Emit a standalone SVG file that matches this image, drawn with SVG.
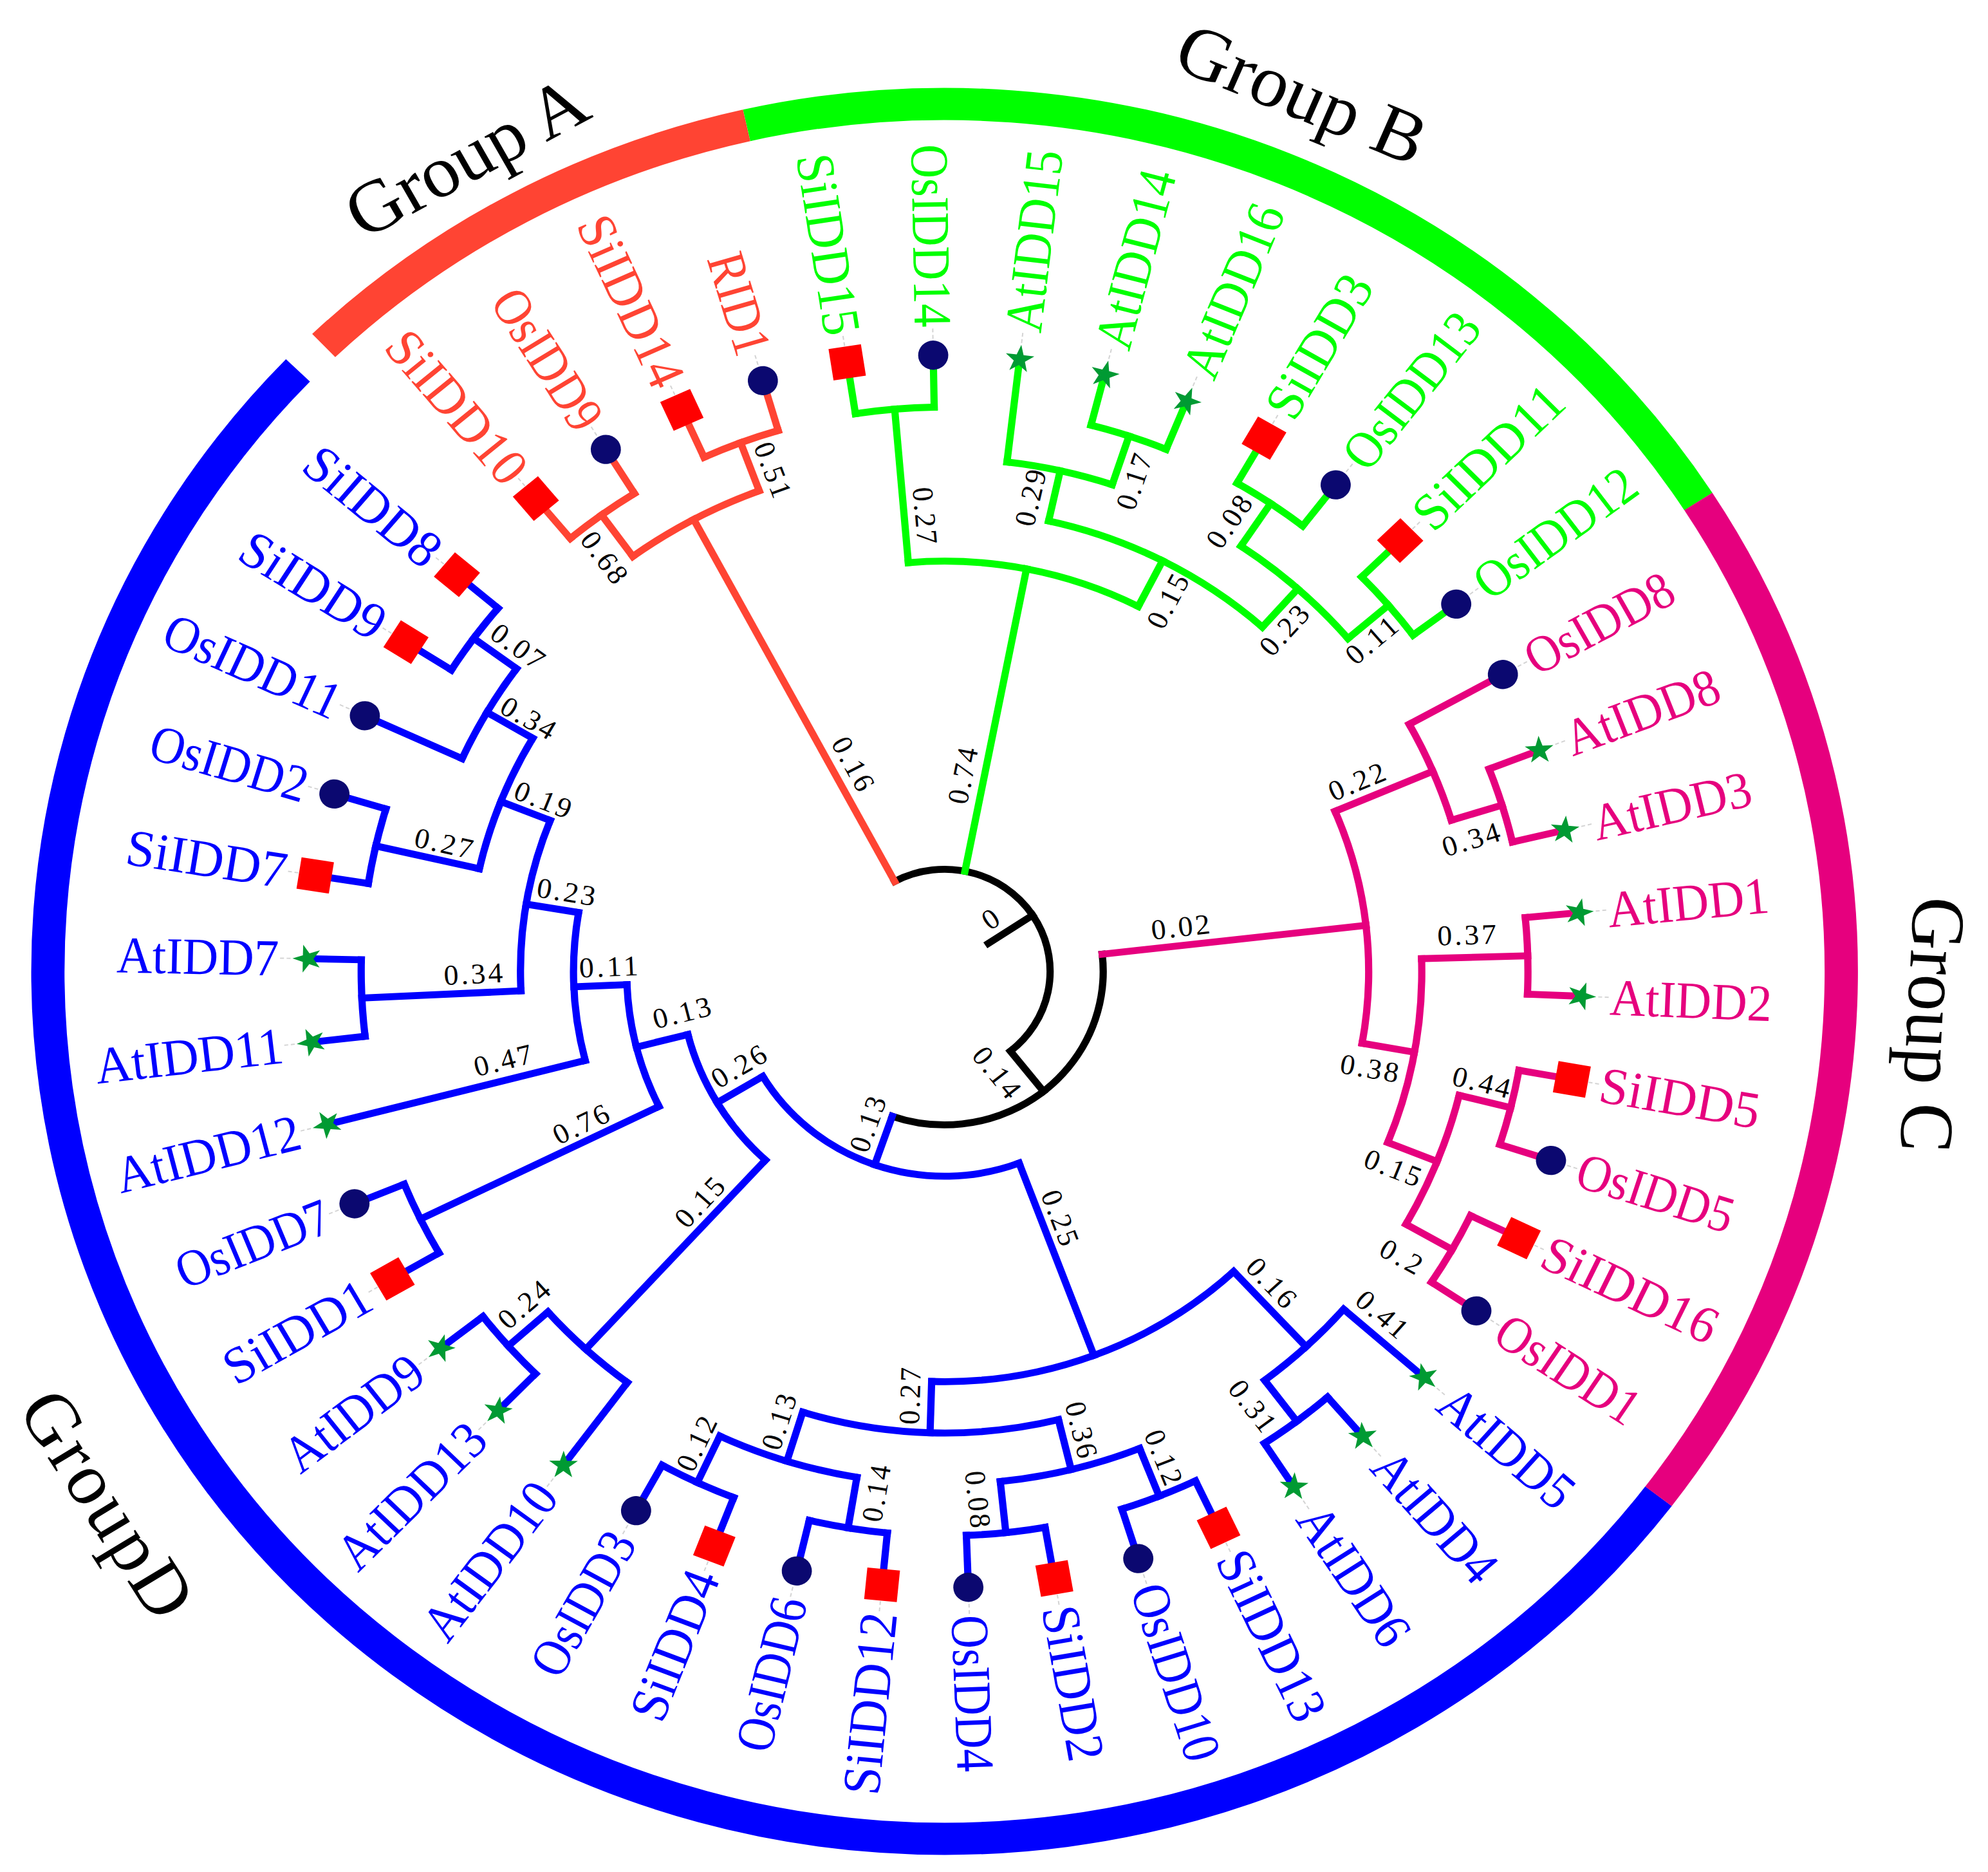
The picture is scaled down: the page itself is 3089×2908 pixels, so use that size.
<svg xmlns="http://www.w3.org/2000/svg" width="3089" height="2908" viewBox="0 0 3089 2908">
<defs>
<style>
.arc{fill:none;stroke-width:5.5;stroke-linecap:square}
.br{fill:none;stroke-width:5.5;stroke-linecap:square}
.k{stroke:#000}.a{stroke:#FF4433}.b{stroke:#00FF00}.c{stroke:#E6007E}.d{stroke:#0000FF}
.ring{fill:none;stroke-width:25.4}
.lbl{font-family:"Liberation Serif",serif;font-size:41px;dominant-baseline:central}
.ta{fill:#FF4433}.tb{fill:#00FF00}.tc{fill:#E6007E}.td{fill:#0000FF}
.bl{font-family:"Liberation Serif",serif;font-size:22.5px;fill:#000;text-anchor:middle;dominant-baseline:central}
.grp{font-family:"Liberation Serif",serif;font-size:58px;fill:#000;text-anchor:middle;dominant-baseline:central}
.ld{stroke:#d4d4d4;stroke-width:1;stroke-dasharray:3 2}
</style>
<circle id="mc" r="11.5" fill="#0B0870"/>
<rect id="ms" x="-12.5" y="-12.5" width="25" height="25" fill="#FF0000"/>
<polygon id="mt" points="11.5,0 3.64,2.65 3.55,10.94 -1.39,4.28 -9.3,6.76 -4.5,0 -9.3,-6.76 -1.39,-4.28 3.55,-10.94 3.64,-2.65" fill="#009A33"/>
</defs>
<rect width="3089" height="2908" fill="#fff"/>
<g transform="translate(1467.7 1509) scale(2.037 1.97)">
<g id="ring">
<circle class="ring" stroke="#0000FF" r="684" pathLength="360" stroke-dasharray="186.63 400" transform="rotate(37.23)"/>
<circle class="ring" stroke="#FF4433" r="684" pathLength="360" stroke-dasharray="31.07 400" transform="rotate(-133.82)"/>
<circle class="ring" stroke="#00FF00" r="684" pathLength="360" stroke-dasharray="69.95 400" transform="rotate(-102.75)"/>
<circle class="ring" stroke="#E6007E" r="684" pathLength="360" stroke-dasharray="70.03 400" transform="rotate(-32.8)"/>
</g>
<g id="group-labels">
<text class="grp" transform="translate(-365 -642.6) rotate(-29)">Group A</text>
<text class="grp" transform="translate(272.7 -692.2) rotate(23)">Group B</text>
<text class="grp" transform="translate(754 42) rotate(93)">Group C</text>
<text class="grp" transform="translate(-638.3 419.8) rotate(58)" textLength="200" lengthAdjust="spacing">GroupD</text>
</g>
<g id="connectors">
<!-- root -->
<line class="br k" x1="40" x2="80.5" transform="rotate(-33.41)"/>
<circle class="arc k" r="80.5" pathLength="360" stroke-dasharray="169.651 400" transform="rotate(-118.235)"/>
<line class="br k" x1="80.5" x2="121" transform="rotate(51.416)"/>
<circle class="arc k" r="121" pathLength="360" stroke-dasharray="115.714 400" transform="rotate(-6.441)"/>
<!-- group A -->
<circle class="arc a" r="445" pathLength="360" stroke-dasharray="7.78 400" transform="rotate(-129.9)"/>
<circle class="arc a" r="445" pathLength="360" stroke-dasharray="7.78 400" transform="rotate(-114.35)"/>
<circle class="arc a" r="404.5" pathLength="360" stroke-dasharray="15.55 400" transform="rotate(-126.01)"/>
<line class="br a" x1="445" x2="485.5" transform="rotate(-129.9)"/>
<line class="br a" x1="445" x2="485.5" transform="rotate(-122.12)"/>
<line class="br a" x1="445" x2="485.5" transform="rotate(-114.35)"/>
<line class="br a" x1="445" x2="485.5" transform="rotate(-106.57)"/>
<line class="br a" x1="404.5" x2="445" transform="rotate(-126.01)"/>
<line class="br a" x1="404.5" x2="445" transform="rotate(-110.46)"/>
<line class="br a" x1="80.5" x2="404.5" transform="rotate(-118.235)"/>
<!-- group B -->
<circle class="arc b" r="445" pathLength="360" stroke-dasharray="7.77 400" transform="rotate(-98.79)"/>
<circle class="arc b" r="445" pathLength="360" stroke-dasharray="7.78 400" transform="rotate(-75.46)"/>
<circle class="arc b" r="404.5" pathLength="360" stroke-dasharray="11.67 400" transform="rotate(-83.24)"/>
<circle class="arc b" r="445" pathLength="360" stroke-dasharray="7.78 400" transform="rotate(-59.91)"/>
<circle class="arc b" r="445" pathLength="360" stroke-dasharray="7.77 400" transform="rotate(-44.35)"/>
<circle class="arc b" r="404.5" pathLength="360" stroke-dasharray="15.555 400" transform="rotate(-56.02)"/>
<circle class="arc b" r="364" pathLength="360" stroke-dasharray="29.163 400" transform="rotate(-77.405)"/>
<circle class="arc b" r="323.5" pathLength="360" stroke-dasharray="32.085 400" transform="rotate(-94.905)"/>
<line class="br b" x1="445" x2="485.5" transform="rotate(-98.79)"/>
<line class="br b" x1="445" x2="485.5" transform="rotate(-91.02)"/>
<line class="br b" x1="404.5" x2="485.5" transform="rotate(-83.24)"/>
<line class="br b" x1="445" x2="485.5" transform="rotate(-75.46)"/>
<line class="br b" x1="445" x2="485.5" transform="rotate(-67.68)"/>
<line class="br b" x1="445" x2="485.5" transform="rotate(-59.91)"/>
<line class="br b" x1="445" x2="485.5" transform="rotate(-52.13)"/>
<line class="br b" x1="445" x2="485.5" transform="rotate(-44.35)"/>
<line class="br b" x1="445" x2="485.5" transform="rotate(-36.58)"/>
<line class="br b" x1="323.5" x2="445" transform="rotate(-94.905)"/>
<line class="br b" x1="404.5" x2="445" transform="rotate(-71.57)"/>
<line class="br b" x1="364" x2="404.5" transform="rotate(-77.405)"/>
<line class="br b" x1="404.5" x2="445" transform="rotate(-56.02)"/>
<line class="br b" x1="404.5" x2="445" transform="rotate(-40.465)"/>
<line class="br b" x1="364" x2="404.5" transform="rotate(-48.2425)"/>
<line class="br b" x1="323.5" x2="364" transform="rotate(-62.82)"/>
<line class="br b" x1="80.5" x2="323.5" transform="rotate(-78.86)"/>
<!-- group C -->
<circle class="arc c" r="445" pathLength="360" stroke-dasharray="7.77 400" transform="rotate(-21.02)"/>
<circle class="arc c" r="404.5" pathLength="360" stroke-dasharray="11.665 400" transform="rotate(-28.8)"/>
<circle class="arc c" r="445" pathLength="360" stroke-dasharray="7.78 400" transform="rotate(-5.47)"/>
<circle class="arc c" r="445" pathLength="360" stroke-dasharray="7.77 400" transform="rotate(10.09)"/>
<circle class="arc c" r="445" pathLength="360" stroke-dasharray="7.78 400" transform="rotate(25.64)"/>
<circle class="arc c" r="404.5" pathLength="360" stroke-dasharray="15.555 400" transform="rotate(13.975)"/>
<circle class="arc c" r="364" pathLength="360" stroke-dasharray="23.333 400" transform="rotate(-1.58)"/>
<circle class="arc c" r="323.5" pathLength="360" stroke-dasharray="33.054 400" transform="rotate(-22.9675)"/>
<line class="br c" x1="404.5" x2="485.5" transform="rotate(-28.8)"/>
<line class="br c" x1="445" x2="485.5" transform="rotate(-21.02)"/>
<line class="br c" x1="445" x2="485.5" transform="rotate(-13.25)"/>
<line class="br c" x1="445" x2="485.5" transform="rotate(-5.47)"/>
<line class="br c" x1="445" x2="485.5" transform="rotate(2.31)"/>
<line class="br c" x1="445" x2="485.5" transform="rotate(10.09)"/>
<line class="br c" x1="445" x2="485.5" transform="rotate(17.86)"/>
<line class="br c" x1="445" x2="485.5" transform="rotate(25.64)"/>
<line class="br c" x1="445" x2="485.5" transform="rotate(33.42)"/>
<line class="br c" x1="404.5" x2="445" transform="rotate(-17.135)"/>
<line class="br c" x1="323.5" x2="404.5" transform="rotate(-22.9675)"/>
<line class="br c" x1="364" x2="445" transform="rotate(-1.58)"/>
<line class="br c" x1="404.5" x2="445" transform="rotate(13.975)"/>
<line class="br c" x1="404.5" x2="445" transform="rotate(29.53)"/>
<line class="br c" x1="364" x2="404.5" transform="rotate(21.7525)"/>
<line class="br c" x1="323.5" x2="364" transform="rotate(10.086)"/>
<line class="br c" x1="121" x2="323.5" transform="rotate(-6.441)"/>
<!-- group D -->
<circle class="arc d" r="445" pathLength="360" stroke-dasharray="7.78 400" transform="rotate(48.97)"/>
<circle class="arc d" r="404.5" pathLength="360" stroke-dasharray="11.67 400" transform="rotate(41.19)"/>
<circle class="arc d" r="445" pathLength="360" stroke-dasharray="7.77 400" transform="rotate(64.53)"/>
<circle class="arc d" r="445" pathLength="360" stroke-dasharray="7.78 400" transform="rotate(80.08)"/>
<circle class="arc d" r="404.5" pathLength="360" stroke-dasharray="15.555 400" transform="rotate(68.415)"/>
<circle class="arc d" r="445" pathLength="360" stroke-dasharray="7.78 400" transform="rotate(95.63)"/>
<circle class="arc d" r="445" pathLength="360" stroke-dasharray="7.77 400" transform="rotate(111.19)"/>
<circle class="arc d" r="404.5" pathLength="360" stroke-dasharray="15.555 400" transform="rotate(99.52)"/>
<circle class="arc d" r="364" pathLength="360" stroke-dasharray="31.105 400" transform="rotate(76.1925)"/>
<circle class="arc d" r="323.5" pathLength="360" stroke-dasharray="44.72 400" transform="rotate(47.025)"/>
<circle class="arc d" r="445" pathLength="360" stroke-dasharray="7.78 400" transform="rotate(134.52)"/>
<circle class="arc d" r="404.5" pathLength="360" stroke-dasharray="11.67 400" transform="rotate(126.74)"/>
<circle class="arc d" r="445" pathLength="360" stroke-dasharray="7.78 400" transform="rotate(150.07)"/>
<circle class="arc d" r="445" pathLength="360" stroke-dasharray="7.78 400" transform="rotate(173.4)"/>
<circle class="arc d" r="445" pathLength="360" stroke-dasharray="7.77 400" transform="rotate(188.96)"/>
<circle class="arc d" r="445" pathLength="360" stroke-dasharray="7.77 400" transform="rotate(212.29)"/>
<circle class="arc d" r="404.5" pathLength="360" stroke-dasharray="11.665 400" transform="rotate(204.51)"/>
<circle class="arc d" r="364" pathLength="360" stroke-dasharray="17.498 400" transform="rotate(192.845)"/>
<circle class="arc d" r="323.5" pathLength="360" stroke-dasharray="24.3 400" transform="rotate(177.29)"/>
<circle class="arc d" r="283" pathLength="360" stroke-dasharray="23.81 400" transform="rotate(165.63)"/>
<circle class="arc d" r="242.5" pathLength="360" stroke-dasharray="23.575 400" transform="rotate(153.96)"/>
<circle class="arc d" r="202" pathLength="360" stroke-dasharray="33.173 400" transform="rotate(132.575)"/>
<circle class="arc d" r="161.5" pathLength="360" stroke-dasharray="79.776 400" transform="rotate(69.385)"/>
<line class="br d" x1="404.5" x2="485.5" transform="rotate(41.19)"/>
<line class="br d" x1="445" x2="485.5" transform="rotate(48.97)"/>
<line class="br d" x1="445" x2="485.5" transform="rotate(56.75)"/>
<line class="br d" x1="445" x2="485.5" transform="rotate(64.53)"/>
<line class="br d" x1="445" x2="485.5" transform="rotate(72.3)"/>
<line class="br d" x1="445" x2="485.5" transform="rotate(80.08)"/>
<line class="br d" x1="445" x2="485.5" transform="rotate(87.86)"/>
<line class="br d" x1="445" x2="485.5" transform="rotate(95.63)"/>
<line class="br d" x1="445" x2="485.5" transform="rotate(103.41)"/>
<line class="br d" x1="445" x2="485.5" transform="rotate(111.19)"/>
<line class="br d" x1="445" x2="485.5" transform="rotate(118.96)"/>
<line class="br d" x1="404.5" x2="485.5" transform="rotate(126.74)"/>
<line class="br d" x1="445" x2="485.5" transform="rotate(134.52)"/>
<line class="br d" x1="445" x2="485.5" transform="rotate(142.3)"/>
<line class="br d" x1="445" x2="485.5" transform="rotate(150.07)"/>
<line class="br d" x1="445" x2="485.5" transform="rotate(157.85)"/>
<line class="br d" x1="283" x2="485.5" transform="rotate(165.63)"/>
<line class="br d" x1="445" x2="485.5" transform="rotate(173.4)"/>
<line class="br d" x1="445" x2="485.5" transform="rotate(181.18)"/>
<line class="br d" x1="445" x2="485.5" transform="rotate(188.96)"/>
<line class="br d" x1="445" x2="485.5" transform="rotate(196.73)"/>
<line class="br d" x1="404.5" x2="485.5" transform="rotate(204.51)"/>
<line class="br d" x1="445" x2="485.5" transform="rotate(212.29)"/>
<line class="br d" x1="445" x2="485.5" transform="rotate(220.06)"/>
<line class="br d" x1="404.5" x2="445" transform="rotate(52.86)"/>
<line class="br d" x1="323.5" x2="404.5" transform="rotate(47.025)"/>
<line class="br d" x1="404.5" x2="445" transform="rotate(68.415)"/>
<line class="br d" x1="404.5" x2="445" transform="rotate(83.97)"/>
<line class="br d" x1="364" x2="404.5" transform="rotate(76.1925)"/>
<line class="br d" x1="404.5" x2="445" transform="rotate(99.52)"/>
<line class="br d" x1="404.5" x2="445" transform="rotate(115.075)"/>
<line class="br d" x1="364" x2="404.5" transform="rotate(107.2975)"/>
<line class="br d" x1="323.5" x2="364" transform="rotate(91.745)"/>
<line class="br d" x1="161.5" x2="323.5" transform="rotate(69.385)"/>
<line class="br d" x1="404.5" x2="445" transform="rotate(138.41)"/>
<line class="br d" x1="202" x2="404.5" transform="rotate(132.575)"/>
<line class="br d" x1="242.5" x2="445" transform="rotate(153.96)"/>
<line class="br d" x1="323.5" x2="445" transform="rotate(177.29)"/>
<line class="br d" x1="364" x2="445" transform="rotate(192.845)"/>
<line class="br d" x1="404.5" x2="445" transform="rotate(216.175)"/>
<line class="br d" x1="364" x2="404.5" transform="rotate(210.3425)"/>
<line class="br d" x1="323.5" x2="364" transform="rotate(201.59)"/>
<line class="br d" x1="283" x2="323.5" transform="rotate(189.44)"/>
<line class="br d" x1="242.5" x2="283" transform="rotate(177.535)"/>
<line class="br d" x1="202" x2="242.5" transform="rotate(165.7475)"/>
<line class="br d" x1="161.5" x2="202" transform="rotate(149.161)"/>
<line class="br d" x1="121" x2="161.5" transform="rotate(109.273)"/>
</g>
<g id="branch-labels">
<text class="bl" transform="translate(-259.5 -326.4) rotate(53.99)" textLength="45" lengthAdjust="spacing">0.68</text>
<text class="bl" transform="translate(-131 -395.5) rotate(69.54)" textLength="45" lengthAdjust="spacing">0.51</text>
<text class="bl" transform="translate(-69.8 -163.7) rotate(61.77)" textLength="45" lengthAdjust="spacing">0.16</text>
<text class="bl" transform="translate(14 -154.3) rotate(-78.86)" textLength="45" lengthAdjust="spacing">0.74</text>
<text class="bl" transform="translate(-15 -359.4) rotate(85.1)" textLength="45" lengthAdjust="spacing">0.27</text>
<text class="bl" transform="translate(65.6 -373.5) rotate(-77.41)" textLength="45" lengthAdjust="spacing">0.29</text>
<text class="bl" transform="translate(144.6 -386.1) rotate(-71.57)" textLength="45" lengthAdjust="spacing">0.17</text>
<text class="bl" transform="translate(170.3 -291.9) rotate(-62.82)" textLength="45" lengthAdjust="spacing">0.15</text>
<text class="bl" transform="translate(217.1 -354.7) rotate(-56.02)" textLength="45" lengthAdjust="spacing">0.08</text>
<text class="bl" transform="translate(259.2 -269) rotate(-48.24)" textLength="45" lengthAdjust="spacing">0.23</text>
<text class="bl" transform="translate(325.8 -261) rotate(-40.47)" textLength="45" lengthAdjust="spacing">0.11</text>
<text class="bl" transform="translate(180 -35) rotate(-6.44)" textLength="45" lengthAdjust="spacing">0.02</text>
<text class="bl" transform="translate(314.5 -149.6) rotate(-22.97)" textLength="45" lengthAdjust="spacing">0.22</text>
<text class="bl" transform="translate(401.5 -104) rotate(-17.14)" textLength="45" lengthAdjust="spacing">0.34</text>
<text class="bl" transform="translate(398.4 -28.7) rotate(-1.58)" textLength="45" lengthAdjust="spacing">0.37</text>
<text class="bl" transform="translate(324.2 76.5) rotate(10.09)" textLength="45" lengthAdjust="spacing">0.38</text>
<text class="bl" transform="translate(409.6 87.5) rotate(13.98)" textLength="45" lengthAdjust="spacing">0.44</text>
<text class="bl" transform="translate(341.9 155) rotate(21.75)" textLength="45" lengthAdjust="spacing">0.15</text>
<text class="bl" transform="translate(348.4 225) rotate(29.53)" textLength="33.75" lengthAdjust="spacing">0.2</text>
<text class="bl" transform="translate(-58.5 120.5) rotate(-70.73)" textLength="45" lengthAdjust="spacing">0.13</text>
<text class="bl" transform="translate(39.8 79.7) rotate(51.42)" textLength="45" lengthAdjust="spacing">0.14</text>
<text class="bl" transform="translate(35.1 -41.2) rotate(-33.41)">0</text>
<text class="bl" transform="translate(88.1 194.3) rotate(69.39)" textLength="45" lengthAdjust="spacing">0.25</text>
<text class="bl" transform="translate(249.3 245.5) rotate(47.03)" textLength="45" lengthAdjust="spacing">0.16</text>
<text class="bl" transform="translate(333.8 270.5) rotate(41.19)" textLength="45" lengthAdjust="spacing">0.41</text>
<text class="bl" transform="translate(234.8 342.6) rotate(52.86)" textLength="45" lengthAdjust="spacing">0.31</text>
<text class="bl" transform="translate(-26.3 334.8) rotate(-88.26)" textLength="45" lengthAdjust="spacing">0.27</text>
<text class="bl" transform="translate(104.3 361.4) rotate(76.19)" textLength="45" lengthAdjust="spacing">0.36</text>
<text class="bl" transform="translate(-126.2 355.1) rotate(-72.7)" textLength="45" lengthAdjust="spacing">0.13</text>
<text class="bl" transform="translate(-189.1 372.4) rotate(-64.93)" textLength="45" lengthAdjust="spacing">0.12</text>
<text class="bl" transform="translate(-52 411.6) rotate(-80.48)" textLength="45" lengthAdjust="spacing">0.14</text>
<text class="bl" transform="translate(25.3 416.3) rotate(83.97)" textLength="45" lengthAdjust="spacing">0.08</text>
<text class="bl" transform="translate(167.1 383.3) rotate(68.42)" textLength="45" lengthAdjust="spacing">0.12</text>
<text class="bl" transform="translate(-186.7 182) rotate(-47.43)" textLength="45" lengthAdjust="spacing">0.15</text>
<text class="bl" transform="translate(-320.8 262.7) rotate(-41.59)" textLength="45" lengthAdjust="spacing">0.24</text>
<text class="bl" transform="translate(-156.9 74.9) rotate(-30.84)" textLength="45" lengthAdjust="spacing">0.26</text>
<text class="bl" transform="translate(-200.4 32.6) rotate(-14.25)" textLength="45" lengthAdjust="spacing">0.13</text>
<text class="bl" transform="translate(-277.3 120.5) rotate(-26.04)" textLength="45" lengthAdjust="spacing">0.76</text>
<text class="bl" transform="translate(-256.3 -3.6) rotate(-2.47)" textLength="45" lengthAdjust="spacing">0.11</text>
<text class="bl" transform="translate(-336.9 70.2) rotate(-14.37)" textLength="45" lengthAdjust="spacing">0.47</text>
<text class="bl" transform="translate(-288.5 -62.6) rotate(9.44)" textLength="45" lengthAdjust="spacing">0.23</text>
<text class="bl" transform="translate(-359.5 2.1) rotate(-2.71)" textLength="45" lengthAdjust="spacing">0.34</text>
<text class="bl" transform="translate(-306.3 -135.4) rotate(21.59)" textLength="45" lengthAdjust="spacing">0.19</text>
<text class="bl" transform="translate(-382 -100.9) rotate(12.85)" textLength="45" lengthAdjust="spacing">0.27</text>
<text class="bl" transform="translate(-317.5 -199.8) rotate(30.34)" textLength="45" lengthAdjust="spacing">0.34</text>
<text class="bl" transform="translate(-325.6 -256.3) rotate(36.18)" textLength="45" lengthAdjust="spacing">0.07</text>
</g>
<g id="leaves">
<g id="leaf-SiIDD10" transform="rotate(-129.9)"><line class="ld" x1="499" x2="507"/><use href="#ms" x="486"/><text class="lbl ta" transform="rotate(180)" x="-508" text-anchor="end" textLength="144.2" lengthAdjust="spacingAndGlyphs">SiIDD10</text></g>
<g id="leaf-OsIDD9" transform="rotate(-122.12)"><line class="ld" x1="499" x2="507"/><use href="#mc" x="486"/><text class="lbl ta" transform="rotate(180)" x="-508" text-anchor="end" textLength="123.6" lengthAdjust="spacingAndGlyphs">OsIDD9</text></g>
<g id="leaf-SiIDD14" transform="rotate(-114.35)"><line class="ld" x1="499" x2="507"/><use href="#ms" x="486"/><text class="lbl ta" transform="rotate(180)" x="-508" text-anchor="end" textLength="144.2" lengthAdjust="spacingAndGlyphs">SiIDD14</text></g>
<g id="leaf-RID1" transform="rotate(-106.57)"><line class="ld" x1="499" x2="507"/><use href="#mc" x="486"/><text class="lbl ta" transform="rotate(180)" x="-508" text-anchor="end" textLength="82.4" lengthAdjust="spacingAndGlyphs">RID1</text></g>
<g id="leaf-SiIDD15" transform="rotate(-98.79)"><line class="ld" x1="499" x2="507"/><use href="#ms" x="486"/><text class="lbl tb" transform="rotate(180)" x="-508" text-anchor="end" textLength="144.2" lengthAdjust="spacingAndGlyphs">SiIDD15</text></g>
<g id="leaf-OsIDD14" transform="rotate(-91.02)"><line class="ld" x1="499" x2="507"/><use href="#mc" x="486"/><text class="lbl tb" transform="rotate(180)" x="-508" text-anchor="end" textLength="144.2" lengthAdjust="spacingAndGlyphs">OsIDD14</text></g>
<g id="leaf-AtIDD15" transform="rotate(-83.24)"><line class="ld" x1="499" x2="507"/><use href="#mt" x="486"/><text class="lbl tb" x="508" textLength="144.2" lengthAdjust="spacingAndGlyphs">AtIDD15</text></g>
<g id="leaf-AtIDD14" transform="rotate(-75.46)"><line class="ld" x1="499" x2="507"/><use href="#mt" x="486"/><text class="lbl tb" x="508" textLength="144.2" lengthAdjust="spacingAndGlyphs">AtIDD14</text></g>
<g id="leaf-AtIDD16" transform="rotate(-67.68)"><line class="ld" x1="499" x2="507"/><use href="#mt" x="486"/><text class="lbl tb" x="508" textLength="144.2" lengthAdjust="spacingAndGlyphs">AtIDD16</text></g>
<g id="leaf-SiIDD3" transform="rotate(-59.91)"><line class="ld" x1="499" x2="507"/><use href="#ms" x="486"/><text class="lbl tb" x="508" textLength="123.6" lengthAdjust="spacingAndGlyphs">SiIDD3</text></g>
<g id="leaf-OsIDD13" transform="rotate(-52.13)"><line class="ld" x1="499" x2="507"/><use href="#mc" x="486"/><text class="lbl tb" x="508" textLength="144.2" lengthAdjust="spacingAndGlyphs">OsIDD13</text></g>
<g id="leaf-SiIDD11" transform="rotate(-44.35)"><line class="ld" x1="499" x2="507"/><use href="#ms" x="486"/><text class="lbl tb" x="508" textLength="144.2" lengthAdjust="spacingAndGlyphs">SiIDD11</text></g>
<g id="leaf-OsIDD12" transform="rotate(-36.58)"><line class="ld" x1="499" x2="507"/><use href="#mc" x="486"/><text class="lbl tb" x="508" textLength="144.2" lengthAdjust="spacingAndGlyphs">OsIDD12</text></g>
<g id="leaf-OsIDD8" transform="rotate(-28.8)"><line class="ld" x1="499" x2="507"/><use href="#mc" x="486"/><text class="lbl tc" x="508" textLength="123.6" lengthAdjust="spacingAndGlyphs">OsIDD8</text></g>
<g id="leaf-AtIDD8" transform="rotate(-21.02)"><line class="ld" x1="499" x2="507"/><use href="#mt" x="486"/><text class="lbl tc" x="508" textLength="123.6" lengthAdjust="spacingAndGlyphs">AtIDD8</text></g>
<g id="leaf-AtIDD3" transform="rotate(-13.25)"><line class="ld" x1="499" x2="507"/><use href="#mt" x="486"/><text class="lbl tc" x="508" textLength="123.6" lengthAdjust="spacingAndGlyphs">AtIDD3</text></g>
<g id="leaf-AtIDD1" transform="rotate(-5.47)"><line class="ld" x1="499" x2="507"/><use href="#mt" x="486"/><text class="lbl tc" x="508" textLength="123.6" lengthAdjust="spacingAndGlyphs">AtIDD1</text></g>
<g id="leaf-AtIDD2" transform="rotate(2.31)"><line class="ld" x1="499" x2="507"/><use href="#mt" x="486"/><text class="lbl tc" x="508" textLength="123.6" lengthAdjust="spacingAndGlyphs">AtIDD2</text></g>
<g id="leaf-SiIDD5" transform="rotate(10.09)"><line class="ld" x1="499" x2="507"/><use href="#ms" x="486"/><text class="lbl tc" x="508" textLength="123.6" lengthAdjust="spacingAndGlyphs">SiIDD5</text></g>
<g id="leaf-OsIDD5" transform="rotate(17.86)"><line class="ld" x1="499" x2="507"/><use href="#mc" x="486"/><text class="lbl tc" x="508" textLength="123.6" lengthAdjust="spacingAndGlyphs">OsIDD5</text></g>
<g id="leaf-SiIDD16" transform="rotate(25.64)"><line class="ld" x1="499" x2="507"/><use href="#ms" x="486"/><text class="lbl tc" x="508" textLength="144.2" lengthAdjust="spacingAndGlyphs">SiIDD16</text></g>
<g id="leaf-OsIDD1" transform="rotate(33.42)"><line class="ld" x1="499" x2="507"/><use href="#mc" x="486"/><text class="lbl tc" x="508" textLength="123.6" lengthAdjust="spacingAndGlyphs">OsIDD1</text></g>
<g id="leaf-AtIDD5" transform="rotate(41.19)"><line class="ld" x1="499" x2="507"/><use href="#mt" x="486"/><text class="lbl td" x="508" textLength="123.6" lengthAdjust="spacingAndGlyphs">AtIDD5</text></g>
<g id="leaf-AtIDD4" transform="rotate(48.97)"><line class="ld" x1="499" x2="507"/><use href="#mt" x="486"/><text class="lbl td" x="508" textLength="123.6" lengthAdjust="spacingAndGlyphs">AtIDD4</text></g>
<g id="leaf-AtIDD6" transform="rotate(56.75)"><line class="ld" x1="499" x2="507"/><use href="#mt" x="486"/><text class="lbl td" x="508" textLength="123.6" lengthAdjust="spacingAndGlyphs">AtIDD6</text></g>
<g id="leaf-SiIDD13" transform="rotate(64.53)"><line class="ld" x1="499" x2="507"/><use href="#ms" x="486"/><text class="lbl td" x="508" textLength="144.2" lengthAdjust="spacingAndGlyphs">SiIDD13</text></g>
<g id="leaf-OsIDD10" transform="rotate(72.3)"><line class="ld" x1="499" x2="507"/><use href="#mc" x="486"/><text class="lbl td" x="508" textLength="144.2" lengthAdjust="spacingAndGlyphs">OsIDD10</text></g>
<g id="leaf-SiIDD2" transform="rotate(80.08)"><line class="ld" x1="499" x2="507"/><use href="#ms" x="486"/><text class="lbl td" x="508" textLength="123.6" lengthAdjust="spacingAndGlyphs">SiIDD2</text></g>
<g id="leaf-OsIDD4" transform="rotate(87.86)"><line class="ld" x1="499" x2="507"/><use href="#mc" x="486"/><text class="lbl td" x="508" textLength="123.6" lengthAdjust="spacingAndGlyphs">OsIDD4</text></g>
<g id="leaf-SiIDD12" transform="rotate(95.63)"><line class="ld" x1="499" x2="507"/><use href="#ms" x="486"/><text class="lbl td" transform="rotate(180)" x="-508" text-anchor="end" textLength="144.2" lengthAdjust="spacingAndGlyphs">SiIDD12</text></g>
<g id="leaf-OsIDD6" transform="rotate(103.41)"><line class="ld" x1="499" x2="507"/><use href="#mc" x="486"/><text class="lbl td" transform="rotate(180)" x="-508" text-anchor="end" textLength="123.6" lengthAdjust="spacingAndGlyphs">OsIDD6</text></g>
<g id="leaf-SiIDD4" transform="rotate(111.19)"><line class="ld" x1="499" x2="507"/><use href="#ms" x="486"/><text class="lbl td" transform="rotate(180)" x="-508" text-anchor="end" textLength="123.6" lengthAdjust="spacingAndGlyphs">SiIDD4</text></g>
<g id="leaf-OsIDD3" transform="rotate(118.96)"><line class="ld" x1="499" x2="507"/><use href="#mc" x="486"/><text class="lbl td" transform="rotate(180)" x="-508" text-anchor="end" textLength="123.6" lengthAdjust="spacingAndGlyphs">OsIDD3</text></g>
<g id="leaf-AtIDD10" transform="rotate(126.74)"><line class="ld" x1="499" x2="507"/><use href="#mt" x="486"/><text class="lbl td" transform="rotate(180)" x="-508" text-anchor="end" textLength="144.2" lengthAdjust="spacingAndGlyphs">AtIDD10</text></g>
<g id="leaf-AtIDD13" transform="rotate(134.52)"><line class="ld" x1="499" x2="507"/><use href="#mt" x="486"/><text class="lbl td" transform="rotate(180)" x="-508" text-anchor="end" textLength="144.2" lengthAdjust="spacingAndGlyphs">AtIDD13</text></g>
<g id="leaf-AtIDD9" transform="rotate(142.3)"><line class="ld" x1="499" x2="507"/><use href="#mt" x="486"/><text class="lbl td" transform="rotate(180)" x="-508" text-anchor="end" textLength="123.6" lengthAdjust="spacingAndGlyphs">AtIDD9</text></g>
<g id="leaf-SiIDD1" transform="rotate(150.07)"><line class="ld" x1="499" x2="507"/><use href="#ms" x="486"/><text class="lbl td" transform="rotate(180)" x="-508" text-anchor="end" textLength="123.6" lengthAdjust="spacingAndGlyphs">SiIDD1</text></g>
<g id="leaf-OsIDD7" transform="rotate(157.85)"><line class="ld" x1="499" x2="507"/><use href="#mc" x="486"/><text class="lbl td" transform="rotate(180)" x="-508" text-anchor="end" textLength="123.6" lengthAdjust="spacingAndGlyphs">OsIDD7</text></g>
<g id="leaf-AtIDD12" transform="rotate(165.63)"><line class="ld" x1="499" x2="507"/><use href="#mt" x="486"/><text class="lbl td" transform="rotate(180)" x="-508" text-anchor="end" textLength="144.2" lengthAdjust="spacingAndGlyphs">AtIDD12</text></g>
<g id="leaf-AtIDD11" transform="rotate(173.4)"><line class="ld" x1="499" x2="507"/><use href="#mt" x="486"/><text class="lbl td" transform="rotate(180)" x="-508" text-anchor="end" textLength="144.2" lengthAdjust="spacingAndGlyphs">AtIDD11</text></g>
<g id="leaf-AtIDD7" transform="rotate(181.18)"><line class="ld" x1="499" x2="507"/><use href="#mt" x="486"/><text class="lbl td" transform="rotate(180)" x="-508" text-anchor="end" textLength="123.6" lengthAdjust="spacingAndGlyphs">AtIDD7</text></g>
<g id="leaf-SiIDD7" transform="rotate(188.96)"><line class="ld" x1="499" x2="507"/><use href="#ms" x="486"/><text class="lbl td" transform="rotate(180)" x="-508" text-anchor="end" textLength="123.6" lengthAdjust="spacingAndGlyphs">SiIDD7</text></g>
<g id="leaf-OsIDD2" transform="rotate(196.73)"><line class="ld" x1="499" x2="507"/><use href="#mc" x="486"/><text class="lbl td" transform="rotate(180)" x="-508" text-anchor="end" textLength="123.6" lengthAdjust="spacingAndGlyphs">OsIDD2</text></g>
<g id="leaf-OsIDD11" transform="rotate(204.51)"><line class="ld" x1="499" x2="507"/><use href="#mc" x="486"/><text class="lbl td" transform="rotate(180)" x="-508" text-anchor="end" textLength="144.2" lengthAdjust="spacingAndGlyphs">OsIDD11</text></g>
<g id="leaf-SiIDD9" transform="rotate(212.29)"><line class="ld" x1="499" x2="507"/><use href="#ms" x="486"/><text class="lbl td" transform="rotate(180)" x="-508" text-anchor="end" textLength="123.6" lengthAdjust="spacingAndGlyphs">SiIDD9</text></g>
<g id="leaf-SiIDD8" transform="rotate(220.06)"><line class="ld" x1="499" x2="507"/><use href="#ms" x="486"/><text class="lbl td" transform="rotate(180)" x="-508" text-anchor="end" textLength="123.6" lengthAdjust="spacingAndGlyphs">SiIDD8</text></g>
</g>
</g>
</svg>
